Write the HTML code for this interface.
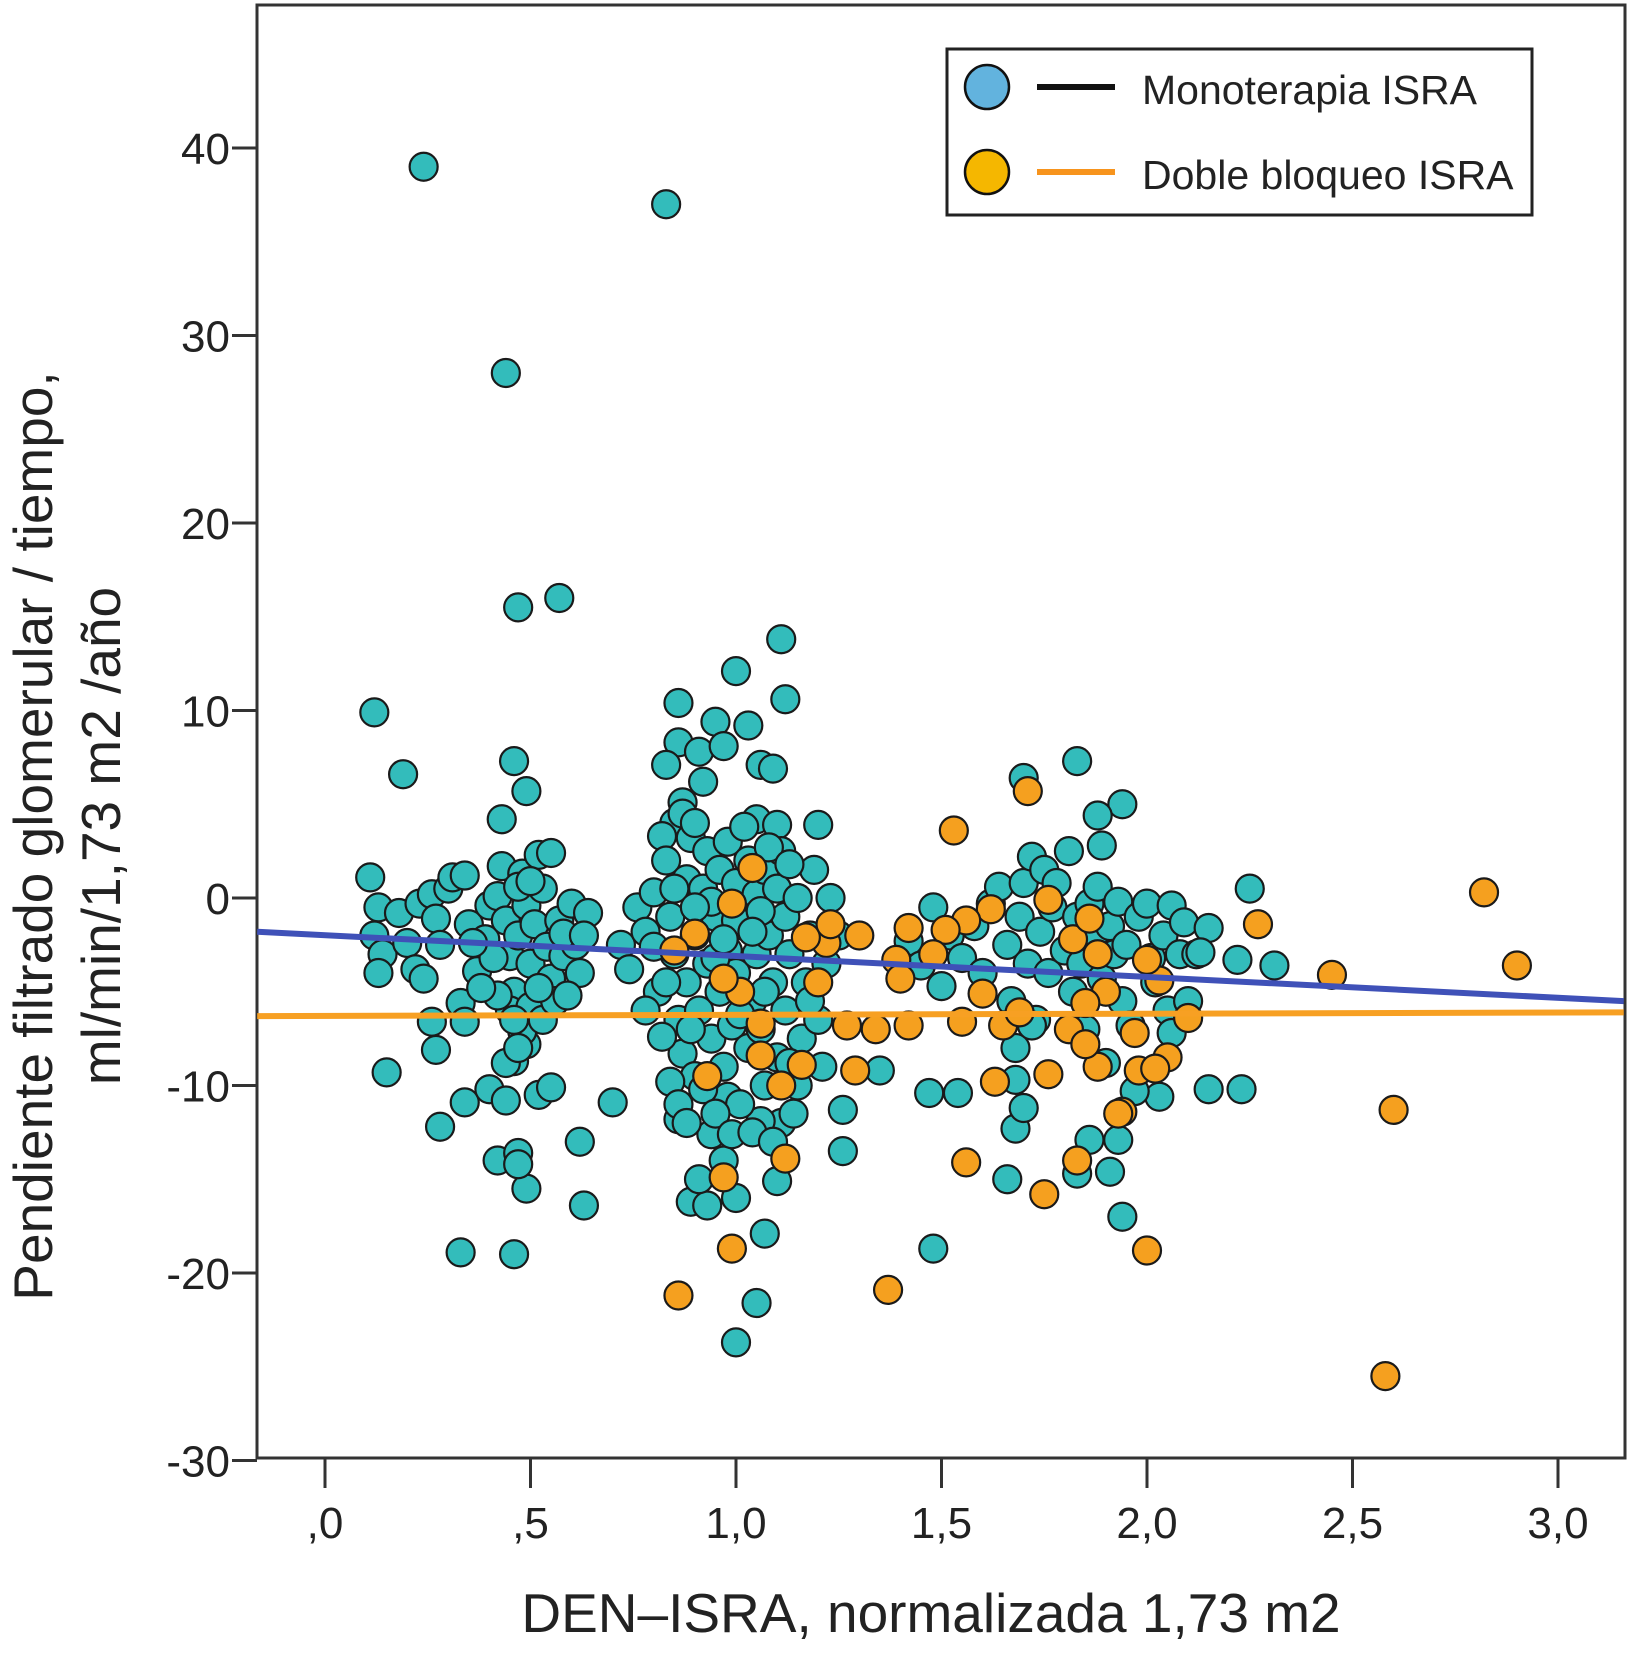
<!DOCTYPE html>
<html><head><meta charset="utf-8">
<style>
html,body{margin:0;padding:0;background:#fff;}
svg{display:block;font-family:"Liberation Sans",sans-serif;}
</style></head>
<body>
<svg id="chart" width="1630" height="1654" viewBox="0 0 1630 1654">
  <rect x="257" y="5" width="1368" height="1453" fill="#fff" stroke="#333" stroke-width="3"/>
  <g id="dots"></g>
  <g id="lines"></g>
  <g id="axes"></g>
  <text x="931" y="1632" font-size="55" text-anchor="middle" fill="#222">DEN–ISRA, normalizada 1,73 m2</text>
  <g>
    <text transform="translate(52,836) rotate(-90)" font-size="55" text-anchor="middle" fill="#222">Pendiente filtrado glomerular / tiempo,</text>
    <text transform="translate(120,836) rotate(-90)" font-size="55" text-anchor="middle" fill="#222">ml/min/1,73 m2 /año</text>
  </g>
  <g>
    <rect x="947" y="49" width="585" height="166" fill="#fff" stroke="#222" stroke-width="3"/>
    <g>
      <circle cx="987" cy="87" r="22" fill="#62b3de" stroke="#111" stroke-width="2.5"/>
      <line x1="1037" y1="87" x2="1115" y2="87" stroke="#111" stroke-width="6"/>
      <text x="1142" y="104" font-size="41" fill="#222">Monoterapia ISRA</text>
    </g>
    <g>
      <circle cx="987" cy="172" r="22" fill="#f5b700" stroke="#111" stroke-width="2.5"/>
      <line x1="1037" y1="172" x2="1115" y2="172" stroke="#f7941d" stroke-width="6"/>
      <text x="1142" y="189" font-size="41" fill="#222">Doble bloqueo ISRA</text>
    </g>
  </g>
</svg>
<script>
const xTicks = [0, 0.5, 1.0, 1.5, 2.0, 2.5, 3.0];
const xTickLabels = [",0", ",5", "1,0", "1,5", "2,0", "2,5", "3,0"];
const yTicks = [-30, -20, -10, 0, 10, 20, 30, 40];
const yTickLabels = ["-30", "-20", "-10", "0", "10", "20", "30", "40"];
const monoX = [.24,.83,.44,.47,.57,.12,.19,.46,.49,.43,1.11,1.0,1.12,.86,1.03,.95,.86,.91,.97,.92,1.06,1.09,.83,.87,.85,1.2,1.05,1.1,1.7,1.83,1.94,1.88,1.89,2.25,2.31,2.23,2.15,2.22,2.03,1.94,1.91,1.93,1.86,1.83,1.66,1.68,1.7,1.48,1.47,1.54,1.26,1.26,1.35,1.0,1.05,1.07,.89,.93,1.0,.91,.97,1.1,1.11,1.06,.86,.94,.98,.33,.46,.63,.49,.42,.47,.47,.62,.70,.28,.27,.15,.34,.33,.34,.40,.44,.46,.49,.52,.55,.26,
.11,.13,.12,.14,.13,.18,.2,.22,.24,.23,.26,.27,.28,.3,.31,.34,.35,.37,.39,.4,.42,.43,.44,.45,.46,.47,.48,.49,.5,.51,.52,.53,.54,.55,.57,.58,.6,.61,.62,.64,.45,.48,.5,.53,.56,.59,.42,.44,.47,.38,.55,.47,.5,.41,.36,.58,.63,.46,.52,
.72,.74,.76,.78,.8,.81,.82,.83,.84,.85,.86,.87,.88,.88,.89,.9,.9,.91,.92,.93,.93,.94,.95,.96,.96,.97,.98,.98,.99,1.0,1.0,1.01,1.02,1.03,1.03,1.04,1.05,1.05,1.06,1.07,1.07,1.08,1.09,1.1,1.1,1.11,1.12,1.12,1.13,1.14,1.15,1.16,1.17,1.18,1.19,1.2,1.21,1.22,1.23,1.25,.84,.86,.88,.92,.95,.99,1.04,1.09,1.15,.8,.82,.85,.87,.9,.94,1.0,1.06,1.02,1.08,1.13,.78,.83,.89,.95,1.01,1.07,1.13,1.18,.9,.97,1.04,
1.42,1.45,1.48,1.5,1.52,1.55,1.58,1.6,1.62,1.64,1.66,1.67,1.68,1.69,1.7,1.71,1.72,1.73,1.74,1.75,1.76,1.77,1.78,1.8,1.81,1.82,1.83,1.84,1.85,1.86,1.87,1.88,1.89,1.9,1.91,1.92,1.93,1.94,1.95,1.96,1.98,2.0,2.01,2.02,2.04,2.05,2.06,2.08,2.09,2.1,2.12,2.15,2.13,2.06,1.97,1.72,1.68];
const monoY = [39,37,28,15.5,16,9.9,6.6,7.3,5.7,4.2,13.8,12.1,10.6,10.4,9.2,9.4,8.3,7.8,8.1,6.2,7.1,6.9,7.1,5.1,4.0,3.9,4.2,3.9,6.4,7.3,5.0,4.4,2.8,0.5,-3.6,-10.2,-10.2,-3.3,-10.6,-17,-14.6,-12.9,-12.9,-14.7,-15,-12.3,-11.2,-18.7,-10.4,-10.4,-11.3,-13.5,-9.2,-23.7,-21.6,-17.9,-16.2,-16.4,-16,-15,-14,-15.1,-12,-11.9,-11.8,-12.6,-10.6,-18.9,-19,-16.4,-15.5,-14,-13.6,-14.2,-13,-10.9,-12.2,-8.1,-9.3,-10.9,-5.6,-6.6,-10.2,-10.8,-8.7,-7.8,-10.5,-10.1,-6.6,
1.1,-.5,-2,-3,-4,-.8,-2.4,-3.8,-4.3,-.3,.2,-1.1,-2.5,.5,1.1,1.2,-1.4,-3.9,-2.2,-.4,.1,1.7,-1.2,-3.1,-5,-2,1.3,-.4,-3.5,-1.4,2.3,.5,-2.6,-4.3,-1.2,-3.1,-.3,-2.5,-4,-.8,-6,-7.1,-5.8,-6.5,-5.5,-5.2,-5.2,-8.8,-8,-4.8,2.4,.6,.9,-3.2,-2.4,-1.9,-2,-6.5,-4.8,
-2.5,-3.8,-.5,-1.8,.3,-5,3.3,2,-1,-3,-6.5,-8.3,1,-4.5,3.2,-2,-9.5,-6,.5,-3.5,2.5,-7.5,-1,1.5,-5,-9,-2.8,3,-6.8,.8,-4,-11,-1.5,2,-8,-5.5,.2,-3,-7,1.5,-10,-2,-4.5,.5,-8.5,2.5,-1,-6,-3,-11.5,0,-7.5,-4.5,-2,1.5,-6.5,-9,-3.5,0,-2,-9.8,-11,-12,-10.2,-11.5,-12.6,-12.5,-13,-10,-2.6,-7.4,.5,4.5,4,-.2,-1.2,-.7,3.8,2.7,1.8,-6,-4.5,-7,-3.2,-6.2,-5,-8.8,-5.5,-.5,-2.2,-1.8,
-2.3,-3.6,-.5,-4.7,-2,-3.2,-1.5,-4,-.3,.6,-2.5,-5.5,-8,-1,.8,-3.5,2.2,-6.5,-1.8,1.5,-4,-.5,.8,-2.8,2.5,-5,-1,-3.5,-7,-.3,-2,.6,-4.3,-8.8,-1.5,-3,-.2,-5.5,-2.5,-6.8,-1,-.3,-3.2,-4.5,-2,-6,-.4,-3,-1.3,-5.5,-3,-1.6,-2.9,-7.2,-10.3,-6.8,-9.7];
const dblX = [1.53,1.71,1.04,.99,2.82,2.9,2.45,2.6,2.58,2.27,2.0,1.37,.86,.99,.97,1.12,1.56,1.75,1.83,1.94,1.98,1.88,1.76,1.63,1.29,.93,1.11,1.06,1.16,1.34,1.42,1.27,1.55,1.65,1.69,1.81,1.85,1.97,2.05,2.1,2.03,2.0,1.88,1.82,1.86,1.76,1.62,1.56,1.51,1.48,1.42,1.39,1.4,1.3,1.22,1.17,1.23,1.2,1.01,.97,.9,.85,1.06,1.9,1.85,1.93,1.6,2.02];
const dblY = [3.6,5.7,1.6,-.3,.3,-3.6,-4.1,-11.3,-25.5,-1.4,-18.8,-20.9,-21.2,-18.7,-14.9,-13.9,-14.1,-15.8,-14,-11.4,-9.2,-9,-9.4,-9.8,-9.2,-9.5,-10,-8.4,-8.9,-7,-6.8,-6.8,-6.6,-6.8,-6.1,-7,-7.8,-7.2,-8.5,-6.4,-4.4,-3.3,-3,-2.2,-1.1,-.1,-.6,-1.2,-1.7,-3,-1.6,-3.3,-4.3,-2,-2.4,-2.1,-1.4,-4.5,-5,-4.3,-1.9,-2.8,-6.7,-5,-5.6,-11.5,-5.1,-9.1];
const fitX = [-0.165, 3.16];
const monoFitY = [-1.8, -5.5];
const dblFitY = [-6.3, -6.1];

const NS = "http://www.w3.org/2000/svg";
function sx(v){ return 325 + v * 411; }
function sy(v){ return 898 - v * 18.75; }
function mk(tag, attrs, parent){
  const e = document.createElementNS(NS, tag);
  for (const k in attrs) e.setAttribute(k, attrs[k]);
  parent.appendChild(e);
  return e;
}
const dots = document.getElementById('dots');
const lines = document.getElementById('lines');
const axes = document.getElementById('axes');
monoX.forEach((x, i) => {
  const c = mk('circle', {cx: sx(x), cy: sy(monoY[i]), r: 14, fill: '#33bcbb', stroke: '#1a1a1a', 'stroke-width': 2.2}, dots);
  
  
});
dblX.forEach((x, i) => {
  const c = mk('circle', {cx: sx(x), cy: sy(dblY[i]), r: 14, fill: '#f5a01f', stroke: '#1a1a1a', 'stroke-width': 2.2}, dots);
  
  
});
const l1 = mk('line', {x1: sx(fitX[0]), y1: sy(monoFitY[0]), x2: sx(fitX[1]), y2: sy(monoFitY[1]), stroke: '#3f51b8', 'stroke-width': 6}, lines);


const l2 = mk('line', {x1: sx(fitX[0]), y1: sy(dblFitY[0]), x2: sx(fitX[1]), y2: sy(dblFitY[1]), stroke: '#f7a023', 'stroke-width': 6}, lines);


yTicks.forEach((v, i) => {
  const t = mk('line', {x1: 232, y1: sy(v), x2: 257, y2: sy(v), stroke: '#333', 'stroke-width': 3}, axes);
  
  
  const tx = mk('text', {x: 230, y: sy(v) + 16, 'font-size': 44, 'text-anchor': 'end', fill: '#222'}, axes);
  tx.textContent = yTickLabels[i];
  
  
});
xTicks.forEach((v, i) => {
  const t = mk('line', {x1: sx(v), y1: 1458, x2: sx(v), y2: 1488, stroke: '#333', 'stroke-width': 3}, axes);
  
  
  const tx = mk('text', {x: sx(v), y: 1538, 'font-size': 44, 'text-anchor': 'middle', fill: '#222'}, axes);
  tx.textContent = xTickLabels[i];
  
  
});
</script>
</body></html>
